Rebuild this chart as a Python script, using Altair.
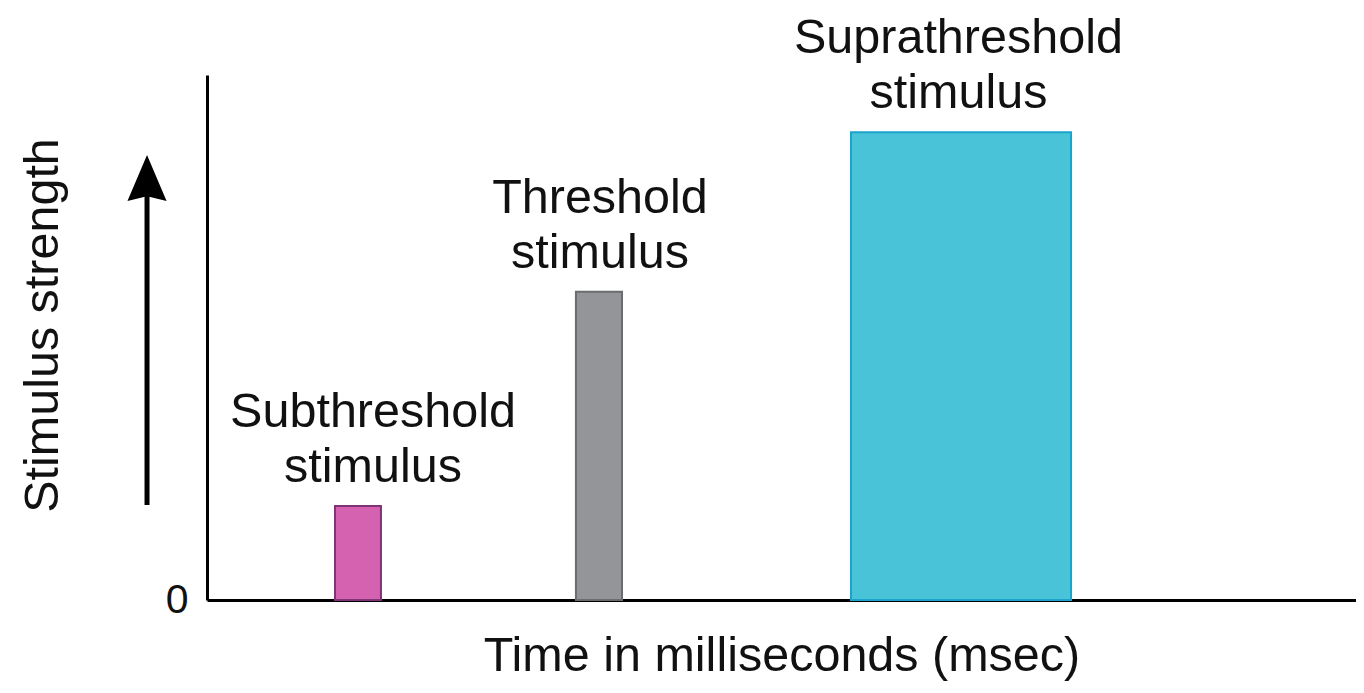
import altair as alt
import pandas as pd

# Bars (arbitrary units: x time 0-100, y strength 0-100)
names = ["Subthreshold\nstimulus", "Threshold\nstimulus", "Suprathreshold\nstimulus"]
x_start = [11.14, 32.11, 56.05]
x_end = [15.14, 36.12, 75.20]
strength = [17.9, 58.7, 89.1]
label_x = [14.45, 34.2, 65.4]
fills = ["#d462b0", "#939598", "#49c3d8"]
strokes = ["#7e3477", "#6b6c6f", "#1ba3cc"]

# Arrow annotation beside the y axis (data coordinates)
arrow_x = [-5.22]
arrow_y0 = [18.1]
arrow_y1 = [78.0]
arrow_head_y = [80.4]

df = pd.DataFrame({
    "name": names, "x0": x_start, "x1": x_end, "s": strength,
    "lx": label_x, "fill": fills, "stroke": strokes,
})
arrow = pd.DataFrame({"x": arrow_x, "y0": arrow_y0, "y1": arrow_y1, "hy": arrow_head_y})

FONT = "Liberation Sans"
FS = 48.5

xs = alt.Scale(domain=[0, 100], nice=False, zero=False)
ys = alt.Scale(domain=[0, 100], nice=False)

bars = alt.Chart(df).mark_bar(strokeWidth=2).encode(
    x=alt.X("x0:Q", scale=xs, axis=alt.Axis(
        title="Time in milliseconds (msec)", labels=False, ticks=False, grid=False,
        domainColor="black", domainWidth=3, titleFont=FONT, titleFontSize=FS,
        titleFontWeight="normal", titleColor="#111", titleY=55, titleBaseline="middle")),
    x2="x1:Q",
    y=alt.Y("s:Q", scale=ys, axis=alt.Axis(
        title="Stimulus strength", values=[0], ticks=False, grid=False,
        domainColor="black", domainWidth=3, labelFont=FONT, labelFontSize=41,
        labelColor="#111", labelPadding=19, titleFont=FONT, titleFontSize=FS,
        titleFontWeight="normal", titleColor="#111", titleAngle=-90,
        titleX=-165, titleY=250, titleAlign="center", titleBaseline="middle")),
    y2=alt.datum(0),
    fill=alt.Fill("fill:N", scale=None),
    stroke=alt.Stroke("stroke:N", scale=None),
)

labels = alt.Chart(df).mark_text(
    font=FONT, fontSize=FS, lineBreak="\n", lineHeight=55, baseline="bottom",
    align="center", dy=-69, color="#111",
).encode(
    x=alt.X("lx:Q", scale=xs),
    y=alt.Y("s:Q", scale=ys),
    text="name:N",
)

shaft = alt.Chart(arrow).mark_rule(strokeWidth=5, color="black").encode(
    x=alt.X("x:Q", scale=xs), y=alt.Y("y0:Q", scale=ys), y2="y1:Q",
)
head = alt.Chart(arrow).mark_point(
    shape="M0,-1L0.85,1L0,0.8L-0.85,1Z", size=2116, filled=True,
    color="black", opacity=1, strokeWidth=0,
).encode(x=alt.X("x:Q", scale=xs), y=alt.Y("hy:Q", scale=ys))

chart = alt.layer(bars, labels, shaft, head).properties(
    width=1149, height=525,
    autosize=alt.AutoSizeParams(type="none"),
    padding={"left": 199, "top": 67, "right": 0, "bottom": 86},
    view=alt.ViewBackground(strokeWidth=0, strokeOpacity=0, fill="white"),
).configure_view(strokeWidth=0, strokeOpacity=0).configure_axis(
    grid=False
).configure(background="white")

chart.save("out.html", embed_options={"renderer": "svg", "actions": False})
